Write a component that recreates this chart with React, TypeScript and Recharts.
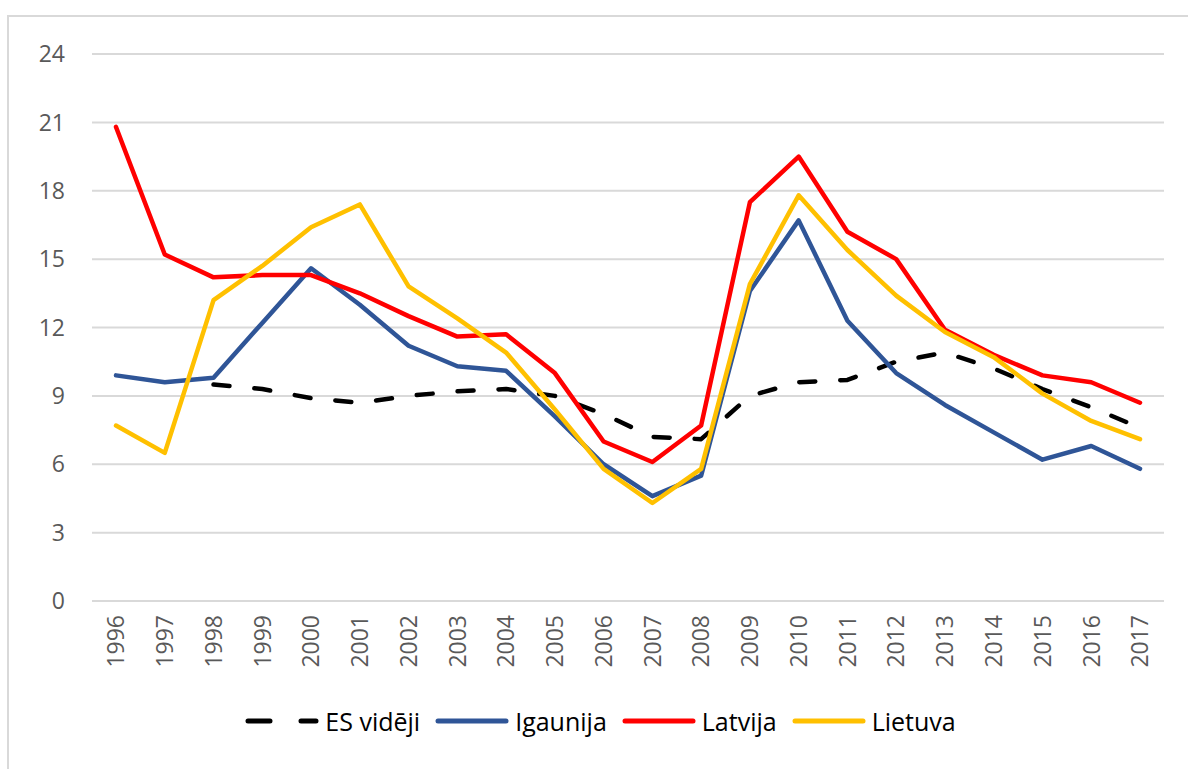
import React from "react";
import { LineChart, Line, XAxis, YAxis, CartesianGrid, Legend } from "recharts";

const years = [
  "1996", "1997", "1998", "1999", "2000", "2001", "2002", "2003", "2004", "2005", "2006",
  "2007", "2008", "2009", "2010", "2011", "2012", "2013", "2014", "2015", "2016", "2017",
];
const esVideji = [
  null, null, 9.5, 9.3, 8.9, 8.7, 9.0, 9.2, 9.3, 9.0, 8.2,
  7.2, 7.1, 9.0, 9.6, 9.7, 10.5, 10.9, 10.2, 9.3, 8.5, 7.6,
];
const igaunija = [
  9.9, 9.6, 9.8, 12.2, 14.6, 13.0, 11.2, 10.3, 10.1, 8.1, 6.0,
  4.6, 5.5, 13.6, 16.7, 12.3, 10.0, 8.6, 7.4, 6.2, 6.8, 5.8,
];
const latvija = [
  20.8, 15.2, 14.2, 14.3, 14.3, 13.5, 12.5, 11.6, 11.7, 10.0, 7.0,
  6.1, 7.7, 17.5, 19.5, 16.2, 15.0, 11.9, 10.8, 9.9, 9.6, 8.7,
];
const lietuva = [
  7.7, 6.5, 13.2, 14.7, 16.4, 17.4, 13.8, 12.4, 10.9, 8.4, 5.8,
  4.3, 5.8, 13.9, 17.8, 15.4, 13.4, 11.8, 10.7, 9.1, 7.9, 7.1,
];
const yTicks = [0, 3, 6, 9, 12, 15, 18, 21, 24];

const series = [
  { key: "es", name: "ES vidēji", color: "#000000", dash: "16 25" },
  { key: "ee", name: "Igaunija", color: "#2F5597", dash: undefined },
  { key: "lv", name: "Latvija", color: "#FF0000", dash: undefined },
  { key: "lt", name: "Lietuva", color: "#FFC000", dash: undefined },
];

const data = years.map((year, i) => ({
  year,
  es: esVideji[i],
  ee: igaunija[i],
  lv: latvija[i],
  lt: lietuva[i],
}));

const FONT = "'Open Sans', sans-serif";

function YearTick(props: any) {
  const { x, y, payload } = props;
  return (
    <g transform={`translate(${x},${y})`}>
      <text
        transform="rotate(-90)"
        textAnchor="end"
        dy="0.36em"
        fill="#595959"
        fontSize={23}
        fontFamily={FONT}
      >
        {payload.value}
      </text>
    </g>
  );
}

function LegendContent() {
  return (
    <div
      style={{
        display: "flex",
        justifyContent: "center",
        alignItems: "center",
        height: 60,
        paddingTop: 20,
        boxSizing: "border-box",
        fontFamily: FONT,
        fontSize: 25,
        color: "#000",
        marginLeft: 50,
      }}
    >
      {series.map((s) => (
        <div key={s.key} style={{ display: "flex", alignItems: "center", marginRight: 14 }}>
          <svg width={76} height={12} style={{ marginRight: 5 }}>
            <line
              x1={4}
              y1={6}
              x2={72}
              y2={6}
              stroke={s.color}
              strokeWidth={5}
              strokeLinecap="round"
              strokeDasharray={s.dash ? "22 31" : undefined}
            />
          </svg>
          <span>{s.name}</span>
        </div>
      ))}
    </div>
  );
}

export default function App() {
  return (
    <div style={{ position: "relative", width: 1188, height: 769, overflow: "hidden", background: "#fff" }}>
      <style>{"body{margin:0;overflow:hidden;}"}</style>
      <div
        style={{
          position: "absolute",
          left: 7,
          top: 15,
          width: 1400,
          height: 1000,
          border: "2px solid #d9d9d9",
        }}
      />
      <div style={{ position: "absolute", left: 0, top: 0 }}>
        <LineChart
          width={1188}
          height={769}
          data={data}
          margin={{ top: 54, right: 24, bottom: 28, left: 0 }}
        >
          <CartesianGrid vertical={false} stroke="#d9d9d9" strokeWidth={2} />
          <XAxis
            dataKey="year"
            axisLine={false}
            tickLine={false}
            tickSize={0}
            tickMargin={14}
            height={80}
            interval={0}
            padding={{ left: 24, right: 24 }}
            tick={<YearTick />}
          />
          <YAxis
            domain={[0, 24]}
            ticks={yTicks}
            axisLine={false}
            tickLine={false}
            tickSize={0}
            tickMargin={27}
            width={92}
            tick={{ fill: "#595959", fontSize: 23, fontFamily: FONT }}
          />
          <Legend verticalAlign="bottom" height={60} content={<LegendContent />} />
          {series.map((s) => (
            <Line
              key={s.key}
              dataKey={s.key}
              name={s.name}
              type="linear"
              stroke={s.color}
              strokeWidth={4.5}
              strokeDasharray={s.dash}
              strokeLinecap="round"
              strokeLinejoin="round"
              dot={false}
              activeDot={false}
              isAnimationActive={false}
            />
          ))}
        </LineChart>
      </div>
    </div>
  );
}
